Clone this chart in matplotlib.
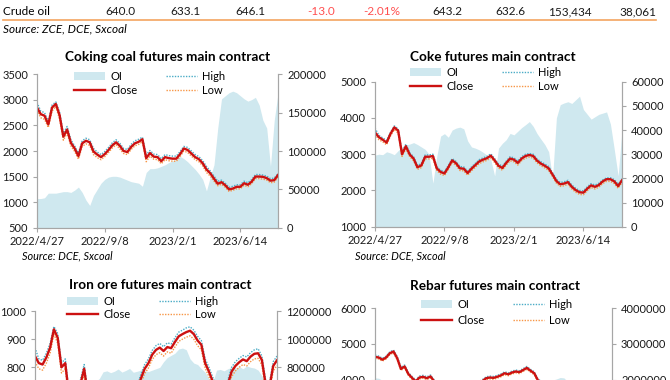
import numpy as np
import matplotlib
matplotlib.use('Agg')
import matplotlib.pyplot as plt
from matplotlib.patches import Patch
from matplotlib.lines import Line2D

plt.rcParams['font.family'] = ['Lato', 'DejaVu Sans']

W, H = 670, 380

# top table row
row_label = 'Crude oil'
row_values = ['640.0', '633.1', '646.1', '-13.0', '-2.01%', '643.2', '632.6', '153,434', '38,061']

# trading-day index (category axis), one value every 5 sessions
days = np.arange(0, 321, 5)
tick_days = [0, 90, 180, 270]
tick_labels = ['2022/4/27', '2022/9/8', '2023/2/1', '2023/6/14']

# coking coal
cc_close = [2850, 2720, 2690, 2520, 2850, 2920, 2700, 2280, 2420, 2160,
            2050, 1900, 2150, 2200, 2170, 1990, 1930, 1880, 1940, 2020,
            2110, 2170, 2100, 2000, 1980, 2080, 2150, 2180, 2230, 1860,
            1960, 1890, 1880, 1800, 1880, 1860, 1850, 1850, 1940, 2050,
            2020, 1950, 1880, 1840, 1760, 1640, 1565, 1460, 1360, 1390,
            1330, 1250, 1265, 1300, 1300, 1370, 1340, 1400, 1500, 1500,
            1495, 1470, 1420, 1430, 1530]
cc_high = [2950, 2780, 2750, 2580, 2900, 2960, 2760, 2350, 2480, 2220,
           2100, 1960, 2200, 2250, 2220, 2050, 1980, 1930, 1990, 2070,
           2160, 2220, 2150, 2050, 2030, 2130, 2200, 2230, 2270, 1930,
           2010, 1940, 1930, 1850, 1930, 1910, 1900, 1900, 1990, 2090,
           2070, 2000, 1930, 1890, 1810, 1700, 1610, 1510, 1410, 1430,
           1370, 1290, 1310, 1340, 1340, 1410, 1380, 1440, 1540, 1540,
           1530, 1510, 1460, 1470, 1560]
cc_low = [2800, 2650, 2620, 2460, 2780, 2870, 2620, 2210, 2350, 2100,
          1990, 1840, 2090, 2140, 2110, 1930, 1870, 1830, 1890, 1970,
          2060, 2120, 2040, 1950, 1930, 2030, 2100, 2130, 2180, 1790,
          1900, 1840, 1830, 1750, 1830, 1810, 1800, 1800, 1890, 2000,
          1970, 1900, 1830, 1790, 1710, 1580, 1510, 1410, 1320, 1350,
          1290, 1210, 1230, 1260, 1260, 1330, 1300, 1360, 1460, 1460,
          1450, 1430, 1380, 1390, 1490]
cc_oi = [38000, 38000, 39000, 45000, 45000, 45000, 46000, 47000, 47000, 46000,
         49000, 53000, 46000, 36000, 29000, 42000, 50000, 58000, 63000, 66000,
         67000, 67000, 66000, 64000, 62000, 60000, 59000, 58000, 54000, 72000,
         77000, 77000, 78000, 80000, 82000, 85000, 87000, 89000, 93000, 90000,
         86000, 81000, 76000, 70000, 63000, 48000, 66000, 82000, 130000, 168000,
         172000, 176000, 178000, 176000, 172000, 168000, 165000, 167000, 170000, 160000,
         140000, 130000, 80000, 140000, 175000]

# coke
ck_close = [3600, 3470, 3400, 3320, 3560, 3740, 3650, 3000, 3220, 2990,
            2880, 2640, 2690, 2930, 2930, 2950, 2610, 2510, 2470, 2640,
            2830, 2750, 2610, 2600, 2480, 2600, 2700, 2800, 2850, 2890,
            2960, 2830, 2680, 2620, 2760, 2880, 2850, 2760, 2880, 2950,
            2980, 2950, 2820, 2740, 2680, 2610, 2440, 2260, 2170, 2190,
            2230, 2100, 2010, 1950, 1940, 2050, 2140, 2100, 2150, 2250,
            2310, 2310, 2250, 2120, 2280]
ck_high = [3720, 3520, 3450, 3380, 3600, 3780, 3700, 3060, 3280, 3040,
           2930, 2690, 2740, 2980, 2980, 3000, 2660, 2560, 2520, 2690,
           2880, 2800, 2660, 2650, 2530, 2650, 2750, 2850, 2900, 2940,
           3010, 2880, 2730, 2670, 2810, 2930, 2900, 2810, 2930, 3000,
           3020, 3000, 2870, 2790, 2730, 2660, 2490, 2310, 2220, 2240,
           2280, 2150, 2060, 2000, 1990, 2100, 2190, 2150, 2200, 2290,
           2350, 2350, 2300, 2170, 2320]
ck_low = [3550, 3400, 3340, 3260, 3500, 3680, 3580, 2940, 3150, 2930,
          2820, 2580, 2630, 2870, 2870, 2890, 2550, 2450, 2410, 2580,
          2770, 2690, 2550, 2540, 2420, 2540, 2640, 2740, 2790, 2830,
          2900, 2770, 2620, 2560, 2700, 2820, 2790, 2700, 2820, 2890,
          2920, 2890, 2760, 2680, 2620, 2550, 2380, 2200, 2110, 2130,
          2170, 2040, 1950, 1890, 1880, 1990, 2080, 2040, 2090, 2190,
          2250, 2250, 2190, 2060, 2220]
ck_oi = [29600, 30000, 29800, 31000, 30500, 29800, 31500, 33000, 33800, 34200,
         34800, 34000, 33000, 32000, 30000, 18000, 29000, 37500, 38500, 37000,
         40000, 40800, 41200, 40500, 35500, 33000, 32500, 31800, 30800, 29600,
         27800, 21000, 32500, 34500, 36000, 38600, 38000, 39500, 41000, 42200,
         43500, 41500, 38500, 36200, 34000, 31000, 20000, 45000, 50500, 51200,
         51700, 51000, 52500, 54000, 48500, 46500, 44500, 45500, 46500, 47000,
         47500, 42500, 32000, 21000, 40000]

# iron ore
io_close = [840, 815, 810, 835, 870, 935, 905, 800, 815, 700,
            700, 690, 740, 795, 700, 720, 690, 720, 700, 720,
            700, 690, 650, 620, 660, 680, 680, 720, 760, 795,
            815, 845, 862, 870, 858, 872, 868, 890, 910, 918,
            925, 930, 918, 895, 880, 815, 785, 750, 720, 700,
            720, 740, 785, 805, 818, 828, 822, 838, 848, 850,
            826, 740, 730, 805, 825]
io_high = [870, 830, 825, 850, 885, 945, 920, 815, 830, 715,
           715, 705, 755, 810, 715, 735, 705, 735, 715, 735,
           715, 705, 665, 635, 675, 695, 695, 735, 775, 810,
           830, 860, 877, 885, 873, 887, 883, 905, 925, 932,
           940, 944, 932, 910, 895, 830, 800, 765, 735, 715,
           735, 755, 800, 820, 832, 842, 837, 852, 862, 866,
           840, 755, 745, 820, 840]
io_low = [820, 795, 790, 815, 850, 918, 885, 780, 795, 682,
          682, 672, 722, 775, 682, 702, 672, 702, 682, 702,
          682, 672, 632, 602, 642, 662, 662, 702, 742, 778,
          798, 828, 845, 852, 840, 855, 850, 872, 892, 900,
          907, 912, 900, 877, 862, 797, 767, 732, 702, 682,
          702, 722, 767, 787, 800, 810, 805, 820, 830, 832,
          808, 722, 712, 787, 807]
io_oi = [600000, 610000, 625000, 640000, 650000, 655000, 640000, 620000, 600000, 590000,
         610000, 630000, 650000, 665000, 680000, 690000, 700000, 720000, 768000, 775000,
         762000, 772000, 788000, 766000, 778000, 792000, 765000, 772000, 780000, 775000,
         770000, 780000, 790000, 800000, 840000, 870000, 885000, 900000, 930000, 937000,
         925000, 860000, 830000, 820000, 790000, 765000, 720000, 690000, 780000, 785000,
         775000, 790000, 800000, 795000, 805000, 790000, 810000, 800000, 795000, 780000,
         740000, 690000, 660000, 650000, 680000]

# rebar
rb_close = [4640, 4620, 4560, 4620, 4740, 4790, 4600, 4300, 4370, 4160,
            4050, 3950, 4060, 4080, 4040, 4090, 3950, 3850, 3880, 3800,
            3870, 3820, 3760, 3700, 3620, 3700, 3760, 3820, 3900, 3960,
            4040, 4060, 4050, 4080, 4120, 4180, 4150, 4200, 4230, 4210,
            4270, 4330, 4250, 4180, 3980, 3900, 3800, 3700, 3600, 3560,
            3700, 3780, 3850, 3750, 3720, 3800, 3780, 3760, 3800, 3820,
            3750, 3700, 3650, 3700, 3720]
rb_high = [4690, 4660, 4600, 4660, 4780, 4830, 4650, 4350, 4410, 4200,
           4090, 3990, 4100, 4120, 4080, 4130, 3990, 3890, 3920, 3840,
           3910, 3860, 3800, 3740, 3660, 3740, 3800, 3860, 3940, 4000,
           4080, 4100, 4090, 4120, 4160, 4220, 4190, 4240, 4270, 4250,
           4310, 4370, 4290, 4220, 4020, 3940, 3840, 3740, 3640, 3600,
           3740, 3820, 3890, 3790, 3760, 3840, 3820, 3800, 3840, 3860,
           3790, 3740, 3690, 3740, 3760]
rb_low = [4590, 4580, 4520, 4580, 4700, 4750, 4550, 4260, 4330, 4120,
          4010, 3910, 4020, 4040, 4000, 4050, 3910, 3810, 3840, 3760,
          3830, 3780, 3720, 3660, 3580, 3660, 3720, 3780, 3860, 3920,
          4000, 4020, 4010, 4040, 4080, 4140, 4110, 4160, 4190, 4170,
          4230, 4290, 4210, 4140, 3940, 3860, 3760, 3660, 3560, 3520,
          3660, 3740, 3810, 3710, 3680, 3760, 3740, 3720, 3760, 3780,
          3710, 3660, 3610, 3660, 3680]
rb_oi = [2050000, 2040000, 1980000, 1950000, 1900000, 1850000, 1800000, 1750000, 1700000, 1650000,
         1500000, 1400000, 1550000, 1650000, 1700000, 1750000, 1800000, 1700000, 1500000, 1650000,
         1750000, 1800000, 1850000, 1800000, 1700000, 1550000, 1700000, 1800000, 1850000, 1800000,
         1750000, 1500000, 1650000, 1750000, 1800000, 1850000, 1900000, 1920000, 1850000, 1800000,
         1750000, 1650000, 1500000, 1700000, 1850000, 1900000, 1950000, 1980000, 1990000, 2020000,
         2060000, 2050000, 1950000, 1900000, 1850000, 1800000, 1750000, 1700000, 1600000, 1400000,
         1700000, 1800000, 1850000, 1900000, 1950000]

OI_COL = '#CFE8EF'
CLOSE_COL = '#CC1111'
HIGH_COL = '#4BACC6'
LOW_COL = '#F79646'
AX_COL = '#A6A6A6'

fig = plt.figure(figsize=(W / 100, H / 100), dpi=100)


def px(x, y):
    return x / W, 1 - y / H


def chart(left, top, right, bottom, close, high, low, oi, ylim, ystep,
          oilim, oistep, title, tx, ty, lx, ly, lspace):
    l, t = px(left, top)
    r, b = px(right, bottom)
    ax = fig.add_axes([l, b, r - l, t - b])
    ax2 = ax.twinx()
    ax2.fill_between(days, oi, 0, color=OI_COL, lw=0)
    ax.plot(days, high, color=HIGH_COL, lw=1, ls=(0, (1, 1)))
    ax.plot(days, low, color=LOW_COL, lw=1, ls=(0, (1, 1)))
    ax.plot(days, close, color=CLOSE_COL, lw=1.7)
    ax.set_zorder(ax2.get_zorder() + 1)
    ax.patch.set_visible(False)

    ax.set_xlim(0, 320)
    ax.set_ylim(*ylim)
    yt = np.arange(ylim[0], ylim[1] + 1, ystep)
    ax.set_yticks(yt)
    ax.set_yticklabels([str(int(v)) for v in yt])
    ax2.set_ylim(*oilim)
    oit = np.arange(oilim[0], oilim[1] + 1, oistep)
    ax2.set_yticks(oit)
    ax2.set_yticklabels([str(int(v)) for v in oit])
    ax.set_xticks(tick_days)
    ax.set_xticklabels(tick_labels)
    for a in (ax, ax2):
        a.spines['top'].set_visible(False)
        for s in ('left', 'right', 'bottom'):
            a.spines[s].set_color(AX_COL)
            a.spines[s].set_linewidth(0.8)
        a.tick_params(colors=AX_COL, labelcolor='#1a1a1a', labelsize=8,
                      length=3, width=0.8)
    ax.tick_params(axis='x', pad=3)
    # the lower charts run past the bottom edge: drop labels that lie fully outside
    if bottom > H:
        ax.tick_params(labelbottom=False)
        frac = (bottom - top) / (ylim[1] - ylim[0])
        for lab, v in zip(ax.get_yticklabels(), yt):
            if top + (ylim[1] - v) * frac > H + 6:
                lab.set_visible(False)
        for lab, v in zip(ax2.get_yticklabels(), oit):
            if top + (oilim[1] - v) * (bottom - top) / (oilim[1] - oilim[0]) > H + 6:
                lab.set_visible(False)
    fig.text(*px(tx, ty), title, ha='center', va='center', fontsize=9.8,
             fontweight='bold')
    handles = [Patch(facecolor=OI_COL, edgecolor='none'),
               Line2D([], [], color=CLOSE_COL, lw=1.7),
               Line2D([], [], color=HIGH_COL, lw=1, ls=(0, (1, 1))),
               Line2D([], [], color=LOW_COL, lw=1, ls=(0, (1, 1)))]
    ax.legend(handles, ['OI', 'Close', 'High', 'Low'], ncol=2,
              loc='upper left', bbox_to_anchor=px(lx, ly),
              bbox_transform=fig.transFigure, frameon=False, fontsize=8,
              borderpad=0, borderaxespad=0, handlelength=2.8,
              handleheight=0.7, handletextpad=0.45, columnspacing=2.6,
              labelspacing=lspace)
    return ax


chart(37, 74.3, 278, 227.7, cc_close, cc_high, cc_low, cc_oi, (500, 3500), 500,
      (0, 200000), 50000, 'Coking coal futures main contract', 168, 57, 74, 70.5, 0.3)
chart(375, 81.7, 622, 226.7, ck_close, ck_high, ck_low, ck_oi, (1000, 5000), 1000,
      (0, 60000), 10000, 'Coke futures main contract', 493, 57, 410, 66.5, 0.3)
chart(35, 311, 277, 480, io_close, io_high, io_low, io_oi, (400, 1000), 100,
      (0, 1200000), 200000, 'Iron ore futures main contract', 160, 285, 67, 296, 0.15)
chart(375, 308.3, 612, 451, rb_close, rb_high, rb_low, rb_oi, (2000, 6000), 1000,
      (0, 4000000), 1000000, 'Rebar futures main contract', 495, 286, 421, 299, 0.45)

# top table row and sources
fig.text(*px(3, 11.5), row_label, ha='left', va='center', fontsize=8.5)
right_edges = [135, 201, 266, 335, 400, 462, 526, 592, 656]
for v, xr in zip(row_values, right_edges):
    col = '#FF5050' if v.startswith('-') else '#1a1a1a'
    fig.text(*px(xr, 11.5), v, ha='right', va='center', fontsize=8.5, color=col)
fig.add_artist(Line2D([3 / W, 656 / W], [1 - 20 / H, 1 - 20 / H],
                      color='#F4A460', lw=1.2, transform=fig.transFigure))
fig.text(*px(3, 28.5), 'Source: ZCE, DCE, Sxcoal', ha='left', va='center',
         fontsize=8.5, style='italic')
fig.text(*px(22, 256), 'Source: DCE, Sxcoal', ha='left', va='center',
         fontsize=7.8, style='italic')
fig.text(*px(355, 256), 'Source: DCE, Sxcoal', ha='left', va='center',
         fontsize=7.8, style='italic')

fig.savefig('out.png', dpi=100)
